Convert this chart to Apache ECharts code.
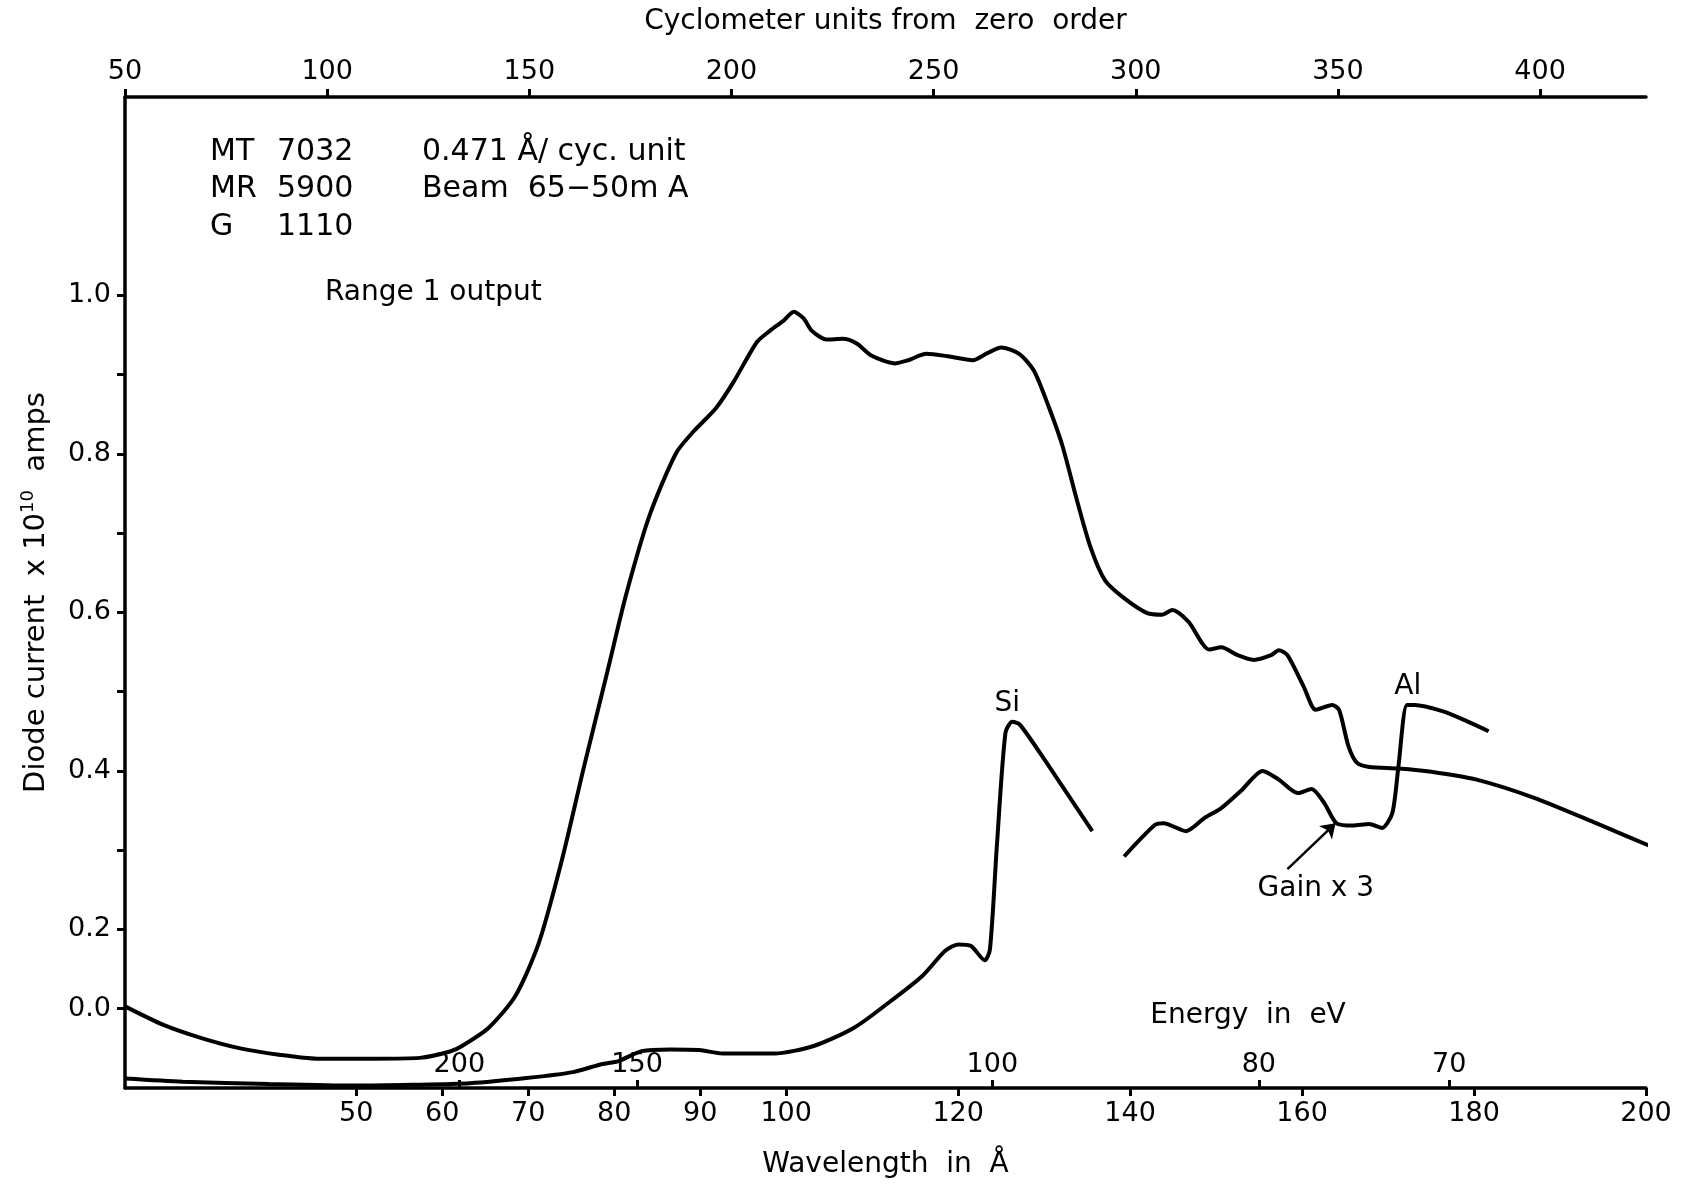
<!DOCTYPE html>
<html>
<head>
<meta charset="utf-8">
<title>Diode current vs wavelength</title>
<script src="https://cdn.jsdelivr.net/npm/echarts@6/dist/echarts.min.js"></script>
<style>
  html, body { margin: 0; padding: 0; background: #fff; }
  #chart { width: 1685px; height: 1189px; }
</style>
</head>
<body>
<div id="chart"></div>
<script>
const HC = 12398 // eV * Å, turns an energy into a wavelength
const FONT = 'DejaVu Sans'

// range 1 output, wavelength (Å) / current (x 10^10 A)
const mainLambda = [23.1, 27.5, 32.0, 36.5, 41.0, 45.4, 52.0, 57.4, 60.9, 62.3, 65.4, 68.5, 71.2, 73.9, 76.5, 79.2, 81.4, 84.1, 87.2, 89.3, 91.8, 93.9, 96.6, 98.1, 99.7, 100.9, 102.0, 103.0, 104.7, 106.6, 108.2, 109.9, 112.6, 114.2, 116.3, 118.8, 121.7, 123.4, 125.0, 127.1, 128.8, 130.4, 132.1, 133.8, 135.4, 137.1, 139.3, 142.0, 143.7, 144.9, 146.8, 149.2, 150.6, 152.5, 154.4, 156.4, 157.3, 158.3, 160.2, 161.6, 163.5, 164.3, 165.4, 166.4, 167.8, 171.2, 175.0, 180.3, 187.0, 194.2, 201.6]
const mainCurrent = [0.103, 0.080, 0.063, 0.050, 0.042, 0.037, 0.037, 0.038, 0.046, 0.053, 0.076, 0.116, 0.182, 0.287, 0.406, 0.525, 0.623, 0.722, 0.801, 0.829, 0.857, 0.891, 0.941, 0.955, 0.968, 0.979, 0.971, 0.955, 0.944, 0.945, 0.939, 0.924, 0.914, 0.918, 0.926, 0.923, 0.918, 0.927, 0.934, 0.926, 0.905, 0.863, 0.811, 0.742, 0.682, 0.640, 0.618, 0.599, 0.597, 0.603, 0.588, 0.553, 0.556, 0.546, 0.540, 0.546, 0.552, 0.546, 0.506, 0.477, 0.483, 0.477, 0.431, 0.410, 0.405, 0.403, 0.399, 0.389, 0.366, 0.334, 0.300]

// lower trace with the Si edge
const siLambda = [23.1, 29.8, 39.8, 49.8, 56.5, 63.2, 69.8, 75.2, 78.5, 80.5, 83.2, 86.5, 89.9, 92.6, 98.6, 103.2, 107.9, 111.9, 115.8, 118.5, 120.0, 121.5, 123.1, 123.7, 124.5, 125.5, 126.3, 127.2, 130.3, 135.6]
const siCurrent = [0.012, 0.008, 0.005, 0.003, 0.004, 0.006, 0.0125, 0.020, 0.030, 0.034, 0.0465, 0.0486, 0.0478, 0.0436, 0.0436, 0.053, 0.076, 0.1075, 0.141, 0.173, 0.181, 0.179, 0.161, 0.175, 0.305, 0.448, 0.462, 0.458, 0.410, 0.324]

// gain x 3 trace with the Al edge
const alLambda = [139.3, 142.9, 143.9, 146.5, 148.7, 150.6, 153.0, 155.4, 157.3, 159.5, 161.1, 162.6, 164.0, 165.9, 167.8, 169.3, 170.5, 171.2, 172.2, 173.1, 176.4, 178.9, 181.7]
const alCurrent = [0.292, 0.332, 0.334, 0.324, 0.341, 0.353, 0.376, 0.400, 0.389, 0.372, 0.377, 0.359, 0.334, 0.331, 0.333, 0.328, 0.347, 0.405, 0.483, 0.483, 0.475, 0.464, 0.450]

// axes
const wavelengthTicks = [50, 60, 70, 80, 90, 100, 120, 140, 160, 180, 200]
const cyclometerTicks = [50, 100, 150, 200, 250, 300, 350, 400]
const energyTicks = [200, 150, 100, 80, 70]
const currentTicks = [0.1, 0.2, 0.3, 0.4, 0.5, 0.6, 0.7, 0.8, 0.9, 1.0]
const currentLabels = [0.1, 0.2, 0.4, 0.6, 0.8, 1.0]

const headerRows = [
  ['MT', '7032', '0.471 Å/ cyc. unit'],
  ['MR', '5900', 'Beam  65−50m A'],
  ['G', '1110', '']
]

const pairs = (xs, ys) => xs.map((x, i) => [x, ys[i]])
const energyLambda = energyTicks.map(e => HC / e)

const black = '#000'
const axisLine = { onZero: false, lineStyle: { color: black, width: 3.5 } }
const tickStyle = { color: black, width: 3 }
const labelStyle = { color: black, fontSize: 27, fontFamily: FONT }
const nameStyle = { color: black, fontSize: 28, fontFamily: FONT }
const lineStyle = { color: black, width: 4 }

const headerGraphics = []
headerRows.forEach((row, i) => {
  const y = 152 + i * 37.5
  ;[210, 277, 422].forEach((x, j) => {
    if (!row[j]) return
    headerGraphics.push({
      type: 'text', x, y,
      style: { text: row[j], fill: black, font: '30px "' + FONT + '"', align: 'left', verticalAlign: 'middle' }
    })
  })
})

let mychart = echarts.init(document.getElementById('chart'))
mychart.setOption({
  animation: false,
  backgroundColor: '#fff',
  grid: { left: 125, right: 39, top: 97, bottom: 101 },
  xAxis: [
    {
      // wavelength, bottom
      type: 'value', position: 'bottom', min: 23.1, max: 200,
      axisLine,
      axisTick: { customValues: wavelengthTicks, length: 8, lineStyle: tickStyle },
      axisLabel: { customValues: wavelengthTicks, margin: 12, ...labelStyle },
      splitLine: { show: false },
      name: 'Wavelength  in  Å', nameLocation: 'middle', nameGap: 63,
      nameTextStyle: nameStyle
    },
    {
      // cyclometer units, top
      type: 'value', position: 'top', min: 50, max: 426.2,
      axisLine,
      axisTick: { customValues: cyclometerTicks, length: 8, lineStyle: tickStyle },
      axisLabel: { customValues: cyclometerTicks, margin: 12, ...labelStyle },
      splitLine: { show: false },
      name: 'Cyclometer units from  zero  order', nameLocation: 'middle', nameGap: 61,
      nameTextStyle: nameStyle
    },
    {
      // energy in eV, drawn inside along the bottom
      type: 'value', position: 'bottom', min: 23.1, max: 200,
      axisLine: { show: false, onZero: false },
      axisTick: { inside: true, customValues: energyLambda, length: 8, lineStyle: tickStyle },
      axisLabel: { inside: true, customValues: energyLambda, margin: 10, formatter: v => String(Math.round(HC / v)), ...labelStyle },
      splitLine: { show: false }
    }
  ],
  yAxis: {
    type: 'value', min: 0, max: 1.25,
    axisLine: { show: true, ...axisLine },
    axisTick: { show: true, customValues: currentTicks, length: 8, lineStyle: tickStyle },
    axisLabel: { customValues: currentLabels, margin: 14, formatter: v => (v < 0.15 ? '0.0' : v.toFixed(1)), ...labelStyle },
    splitLine: { show: false },
    name: '{n|Diode current  x 10}{s|10}{n|  amps}',
    nameLocation: 'middle', nameGap: 72, nameRotate: 90,
    nameTextStyle: {
      rich: {
        n: { fontSize: 29, fontFamily: FONT, color: black },
        s: { fontSize: 18, fontFamily: FONT, color: black, verticalAlign: 'top', padding: [0, 0, 16, 0] }
      }
    }
  },
  graphic: headerGraphics.concat([
    { type: 'text', x: 325, y: 293, style: { text: 'Range 1 output', fill: black, font: '28px "' + FONT + '"', verticalAlign: 'middle' } },
    { type: 'text', x: 1248, y: 1016, style: { text: 'Energy  in  eV', fill: black, font: '28px "' + FONT + '"', align: 'center', verticalAlign: 'middle' } }
  ]),
  series: [
    {
      name: 'Range 1 output', type: 'line', xAxisIndex: 0,
      data: pairs(mainLambda, mainCurrent),
      showSymbol: false, smooth: 0.25, clip: false, lineStyle
    },
    {
      name: 'Si', type: 'line', xAxisIndex: 0,
      data: pairs(siLambda, siCurrent),
      showSymbol: false, smooth: 0.25, lineStyle,
      markPoint: {
        symbol: 'circle', symbolSize: 1, itemStyle: { color: 'rgba(0,0,0,0)' },
        label: { show: true, position: 'inside', formatter: '{b}', ...nameStyle },
        data: [{ name: 'Si', coord: [125.7, 0.485] }]
      }
    },
    {
      name: 'Gain x 3', type: 'line', xAxisIndex: 0,
      data: pairs(alLambda, alCurrent),
      showSymbol: false, smooth: 0.25, lineStyle,
      markPoint: {
        symbol: 'circle', symbolSize: 1, itemStyle: { color: 'rgba(0,0,0,0)' },
        label: { show: true, position: 'inside', formatter: '{b}', ...nameStyle },
        data: [
          { name: 'Al', coord: [172.3, 0.506] },
          { name: 'Gain x 3', coord: [161.6, 0.251] }
        ]
      },
      markLine: {
        silent: true, symbol: ['none', 'arrow'], symbolSize: 14,
        label: { show: false },
        lineStyle: { color: black, width: 2.5, type: 'solid' },
        data: [[{ coord: [158.3, 0.276] }, { coord: [163.9, 0.334] }]]
      }
    }
  ]
})
</script>
</body>
</html>
